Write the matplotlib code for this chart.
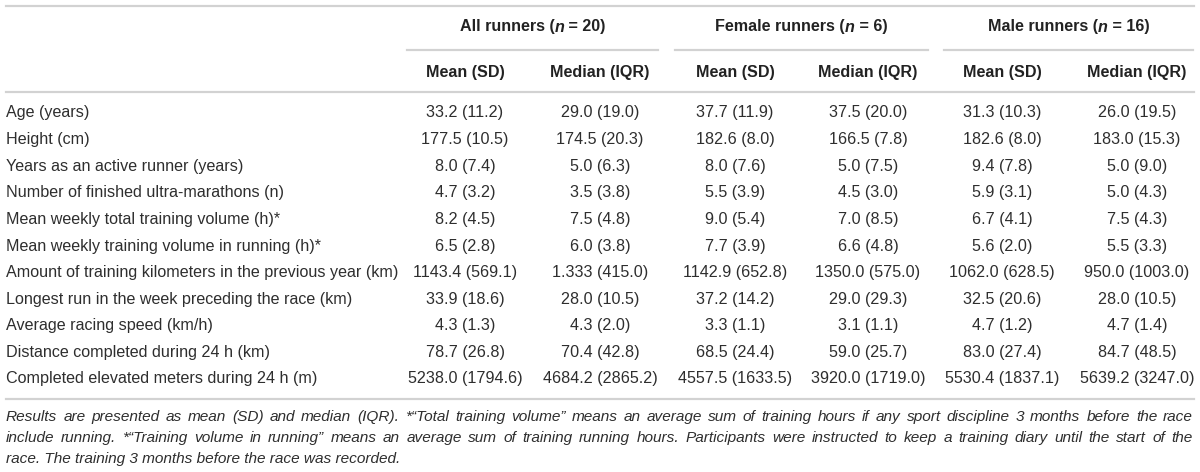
import matplotlib
matplotlib.use('Agg')
import matplotlib.pyplot as plt
from matplotlib.lines import Line2D

# table content
row_labels = [
    'Age (years)',
    'Height (cm)',
    'Years as an active runner (years)',
    'Number of finished ultra-marathons (n)',
    'Mean weekly total training volume (h)*',
    'Mean weekly training volume in running (h)*',
    'Amount of training kilometers in the previous year (km)',
    'Longest run in the week preceding the race (km)',
    'Average racing speed (km/h)',
    'Distance completed during 24 h (km)',
    'Completed elevated meters during 24 h (m)',
]
all_mean = ['33.2 (11.2)', '177.5 (10.5)', '8.0 (7.4)', '4.7 (3.2)', '8.2 (4.5)', '6.5 (2.8)',
            '1143.4 (569.1)', '33.9 (18.6)', '4.3 (1.3)', '78.7 (26.8)', '5238.0 (1794.6)']
all_median = ['29.0 (19.0)', '174.5 (20.3)', '5.0 (6.3)', '3.5 (3.8)', '7.5 (4.8)', '6.0 (3.8)',
              '1.333 (415.0)', '28.0 (10.5)', '4.3 (2.0)', '70.4 (42.8)', '4684.2 (2865.2)']
female_mean = ['37.7 (11.9)', '182.6 (8.0)', '8.0 (7.6)', '5.5 (3.9)', '9.0 (5.4)', '7.7 (3.9)',
               '1142.9 (652.8)', '37.2 (14.2)', '3.3 (1.1)', '68.5 (24.4)', '4557.5 (1633.5)']
female_median = ['37.5 (20.0)', '166.5 (7.8)', '5.0 (7.5)', '4.5 (3.0)', '7.0 (8.5)', '6.6 (4.8)',
                 '1350.0 (575.0)', '29.0 (29.3)', '3.1 (1.1)', '59.0 (25.7)', '3920.0 (1719.0)']
male_mean = ['31.3 (10.3)', '182.6 (8.0)', '9.4 (7.8)', '5.9 (3.1)', '6.7 (4.1)', '5.6 (2.0)',
             '1062.0 (628.5)', '32.5 (20.6)', '4.7 (1.2)', '83.0 (27.4)', '5530.4 (1837.1)']
male_median = ['26.0 (19.5)', '183.0 (15.3)', '5.0 (9.0)', '5.0 (4.3)', '7.5 (4.3)', '5.5 (3.3)',
               '950.0 (1003.0)', '28.0 (10.5)', '4.7 (1.4)', '84.7 (48.5)', '5639.2 (3247.0)']

groups = [('All runners (', 'n', ' = 20)'), ('Female runners (', 'n', ' = 6)'), ('Male runners (', 'n', ' = 16)')]
sub_headers = ['Mean (SD)', 'Median (IQR)']

footnote_lines = [
    'Results are presented as mean (SD) and median (IQR). *\u201cTotal training volume\u201d means an average '
    'sum of training hours if any sport discipline 3 months before the race',
    'include running. *\u201cTraining volume in running\u201d means an average sum of training running hours. '
    'Participants were instructed to keep a training diary until the start of the',
    'race. The training 3 months before the race was recorded.',
]

W, H = 1200, 472
fig = plt.figure(figsize=(12, 4.72), dpi=100)
fig.patch.set_facecolor('white')
plt.rcParams['font.family'] = ['Liberation Sans', 'DejaVu Sans']
renderer = fig.canvas.get_renderer()

TXT = '#2e2e2e'
LINE = '#d2d2d2'
FS = 11.6
FS_FOOT = 11.1

def fx(x):
    return x / W

def fy(y):
    return 1 - y / H

def hline(x0, x1, y):
    fig.add_artist(Line2D([fx(x0), fx(x1)], [fy(y), fy(y)], color=LINE, lw=1.6))

def str_width(s, **kw):
    t = fig.text(0, 0, s, **kw)
    w = t.get_window_extent(renderer).width
    t.remove()
    return w

# rules
hline(6, 1194, 6)
hline(6, 1194, 92)
hline(6, 1194, 399)
group_spans = [(407, 658), (675, 928), (944, 1193)]
for x0, x1 in group_spans:
    hline(x0, x1, 49.5)

# group titles (bold, with italic n)
for (a, n, b), (x0, x1) in zip(groups, group_spans):
    parts = [(a, 'normal'), (n, 'italic'), (b, 'normal')]
    ws = [str_width(s, fontsize=FS, fontweight='bold', style=st) for s, st in parts]
    x = (x0 + x1) / 2 - sum(ws) / 2
    for (s, st), w in zip(parts, ws):
        fig.text(fx(x), fy(27), s, fontsize=FS, fontweight='bold', style=st, color='#222222',
                 va='center', ha='left')
        x += w

col_x = [465, 600, 735, 868, 1002, 1137]
columns = [all_mean, all_median, female_mean, female_median, male_mean, male_median]
for i, cx in enumerate(col_x):
    fig.text(fx(cx), fy(72), sub_headers[i % 2], fontsize=FS, fontweight='bold', color='#222222',
             ha='center', va='center')

row_y0, row_dy = 113, 26.6
for r, lab in enumerate(row_labels):
    y = row_y0 + r * row_dy
    fig.text(fx(6), fy(y), lab, fontsize=FS, color=TXT, ha='left', va='center')
    for cx, col in zip(col_x, columns):
        fig.text(fx(cx), fy(y), col[r], fontsize=FS, color=TXT, ha='center', va='center')

# footnote, justified except last line
foot_y = [417, 438, 459]
left, right = 6, 1193
fkw = dict(fontsize=FS_FOOT, style='italic')
for li, (line, y) in enumerate(zip(footnote_lines, foot_y)):
    if li == len(footnote_lines) - 1:
        fig.text(fx(left), fy(y), line, color=TXT, va='center', ha='left', **fkw)
        continue
    words = line.split(' ')
    full = str_width(line, **fkw)
    extra = (right - left - full) / (len(words) - 1)
    for i, w in enumerate(words):
        prefix = ' '.join(words[:i + 1])
        x0 = str_width(prefix, **fkw) - str_width(w, **fkw)
        fig.text(fx(left + x0 + i * extra), fy(y), w, color=TXT, va='center', ha='left', **fkw)

fig.savefig('out.png', dpi=100, facecolor='white')
